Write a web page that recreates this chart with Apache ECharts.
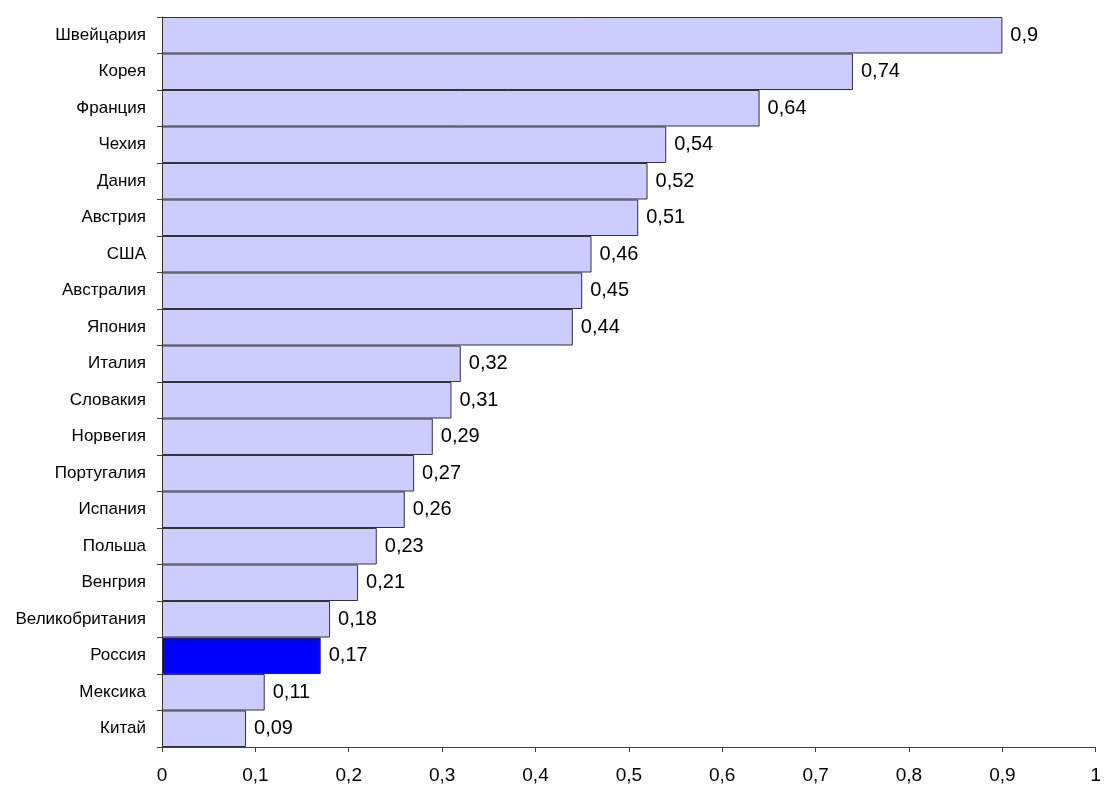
<!DOCTYPE html>
<html>
<head>
<meta charset="utf-8">
<script src="https://cdn.jsdelivr.net/npm/echarts@6/dist/echarts.min.js"></script>
<style>
  html, body { margin: 0; padding: 0; background: #fff; }
  #chart { width: 1104px; height: 785px; }
</style>
</head>
<body>
<div id="chart"></div>
<script>
// Countries, top to bottom
const countries = ['Швейцария', 'Корея', 'Франция', 'Чехия', 'Дания', 'Австрия', 'США',
  'Австралия', 'Япония', 'Италия', 'Словакия', 'Норвегия', 'Португалия', 'Испания',
  'Польша', 'Венгрия', 'Великобритания', 'Россия', 'Мексика', 'Китай'];
const values = [0.9, 0.74, 0.64, 0.54, 0.52, 0.51, 0.46, 0.45, 0.44, 0.32, 0.31, 0.29,
  0.27, 0.26, 0.23, 0.21, 0.18, 0.17, 0.11, 0.09];
const highlighted = 'Россия';

const comma = v => String(v).replace('.', ',');
const axisColor = '#404040';
const font = 'Liberation Sans, Arial, sans-serif';

const chart = echarts.init(document.getElementById('chart'));
chart.setOption({
  animation: false,
  backgroundColor: '#ffffff',
  grid: { left: 162, right: 4, top: 17, bottom: 37, containLabel: false },
  xAxis: {
    type: 'value',
    min: 0, max: 1, interval: 0.1,
    axisLine: { show: true, lineStyle: { color: axisColor, width: 1 } },
    axisTick: { show: true, length: 5, lineStyle: { color: axisColor } },
    splitLine: { show: false },
    axisLabel: {
      color: '#000', fontFamily: font, fontSize: 19,
      margin: 19, formatter: v => comma(Math.round(v * 10) / 10)
    }
  },
  yAxis: {
    type: 'category',
    data: countries,
    inverse: true,
    axisLine: { show: true, lineStyle: { color: axisColor, width: 1 } },
    axisTick: { show: true, length: 5, lineStyle: { color: axisColor } },
    axisLabel: { color: '#000', fontFamily: font, fontSize: 17, margin: 16 }
  },
  series: [{
    type: 'bar',
    barCategoryGap: '0%',
    data: values.map((v, i) => ({
      value: v,
      itemStyle: { color: countries[i] === highlighted ? '#0000ff' : '#ccccff' }
    })),
    itemStyle: { borderColor: '#333333', borderWidth: 1 },
    label: {
      show: true, position: 'right', distance: 8,
      color: '#000', fontFamily: font, fontSize: 20,
      formatter: p => comma(p.value)
    }
  }]
});
</script>
</body>
</html>
